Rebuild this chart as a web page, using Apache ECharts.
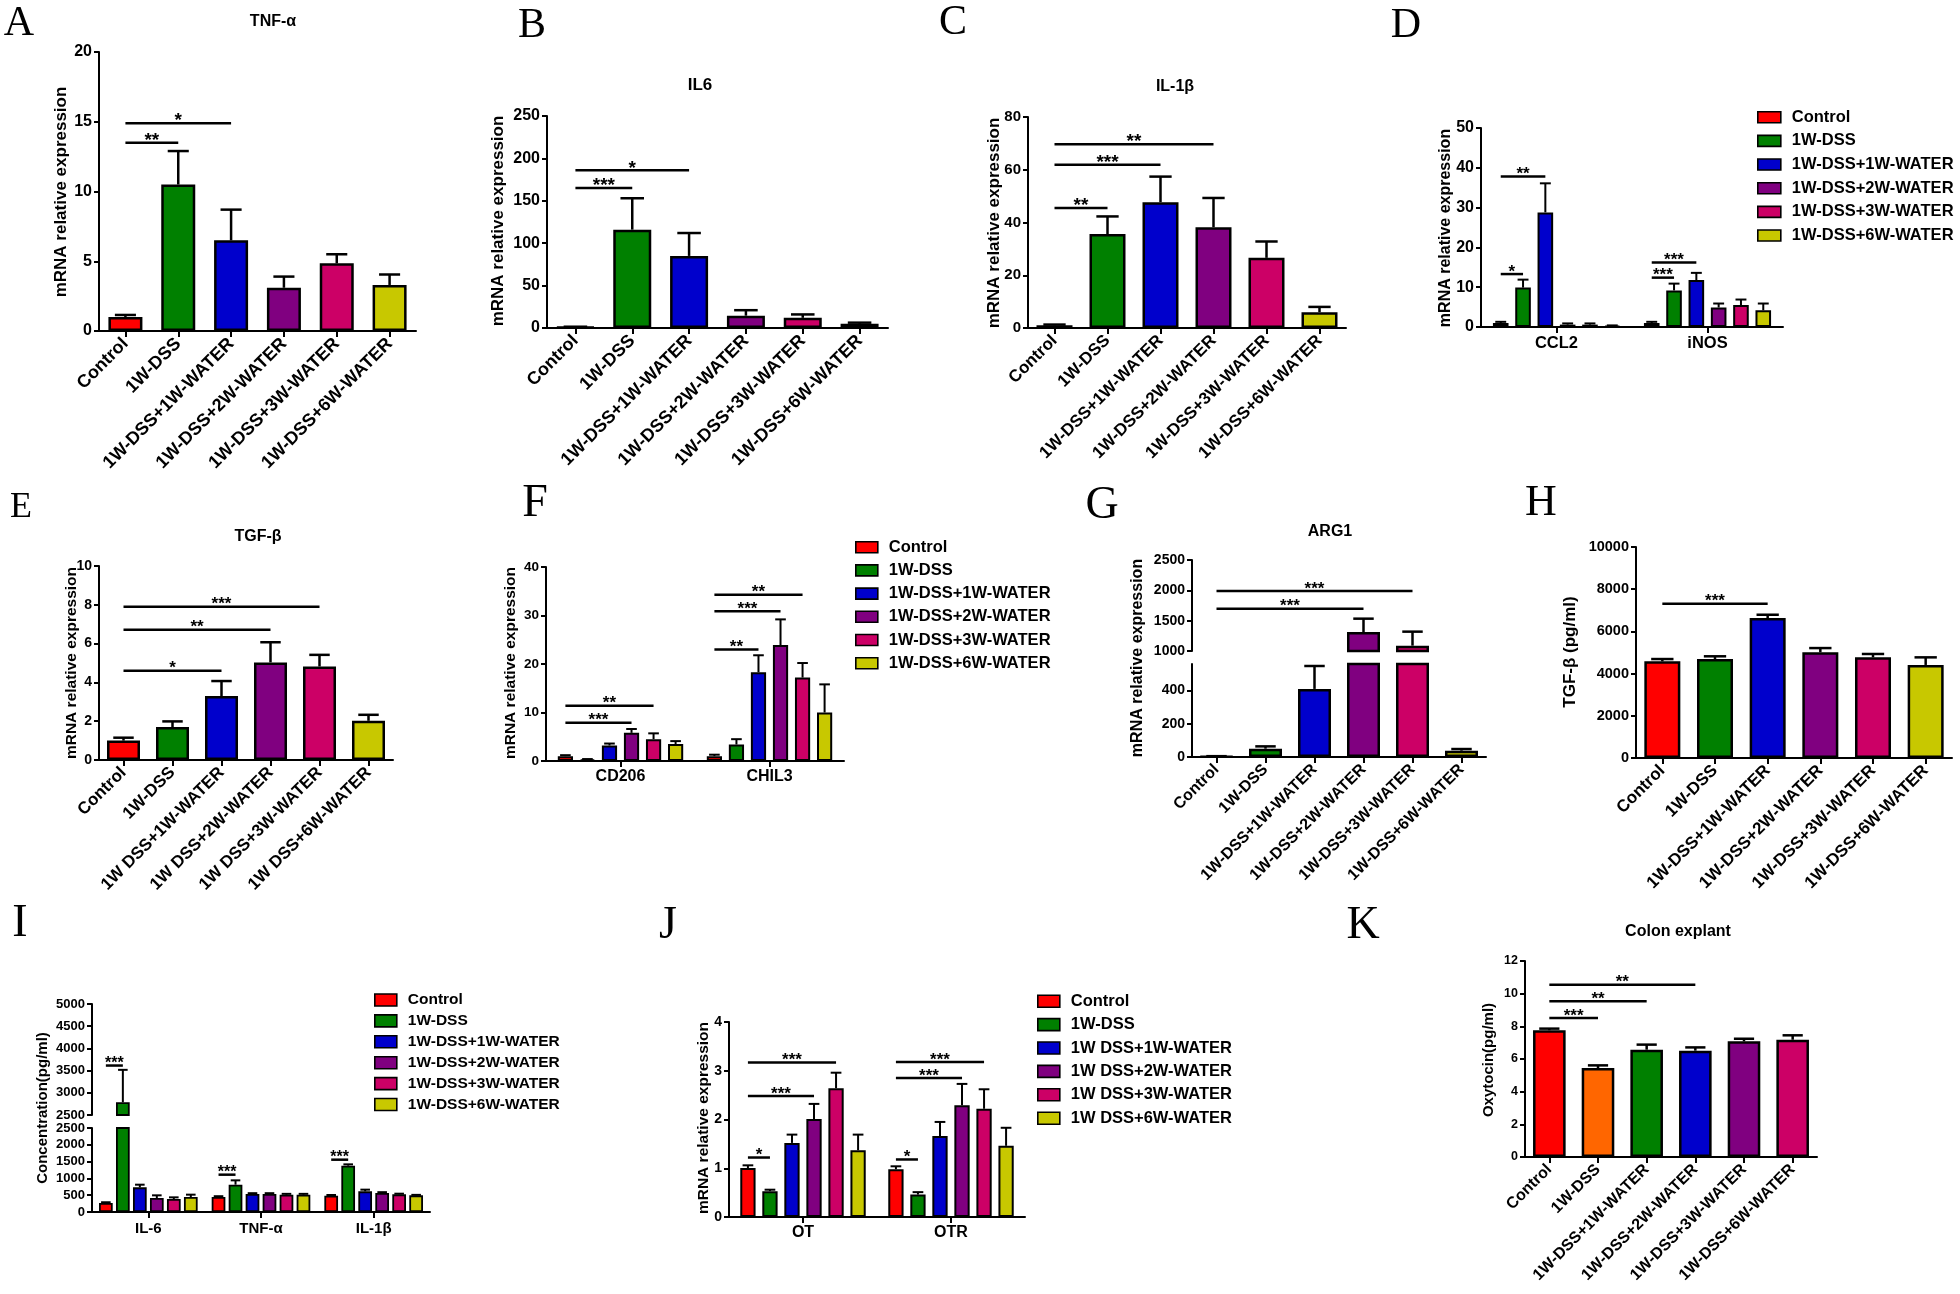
<!DOCTYPE html>
<html><head><meta charset="utf-8">
<script src="https://cdn.jsdelivr.net/npm/echarts@6/dist/echarts.min.js"></script>
<style>html,body{margin:0;padding:0;background:#fff}#c{width:1960px;height:1294px}</style>
</head><body><div id="c"></div>
<script>
// ---------------- categories / groups ----------------
const GROUPS = ['Control','1W-DSS','1W-DSS+1W-WATER','1W-DSS+2W-WATER','1W-DSS+3W-WATER','1W-DSS+6W-WATER'];
const GROUPS_SP = ['Control','1W-DSS','1W DSS+1W-WATER','1W DSS+2W-WATER','1W DSS+3W-WATER','1W DSS+6W-WATER'];
const COLORS = ['#FF0000','#008000','#0000CC','#800080','#CC0066','#C8C800'];
const COLORS_K = ['#FF0000','#FF6600','#008000','#0000CC','#800080','#CC0066'];

// A  TNF-α (mRNA)
const aValues = [1.0, 10.5, 6.5, 3.1, 4.85, 3.3];
const aUpper  = [1.15, 12.9, 8.7, 3.9, 5.5, 4.05];
const aSig    = [[0,1,13.5,'**'],[0,2,14.9,'*']];
// B  IL6
const bValues = [1.0, 116, 85, 14.5, 12, 5];
const bUpper  = [1.5, 153, 112, 21, 16, 6.3];
const bSig    = [[0,1,165,'***'],[0,2,186,'*']];
// C  IL-1β
const cValues = [1.0, 35.6, 47.7, 38.2, 26.6, 6.0];
const cUpper  = [1.3, 42.3, 57.4, 49.3, 32.8, 8.0];
const cSig    = [[0,1,45.5,'**'],[0,2,61.9,'***'],[0,3,69.7,'**']];
// D  CCL2 / iNOS  (rows = genes, columns = groups)
const dCats   = ['CCL2','iNOS'];
const dValues = [[1.0, 9.9, 28.8, 0.6, 0.6, 0.3],[1.0, 9.2, 11.8, 4.9, 5.5, 4.2]];
const dUpper  = [[1.3, 11.9, 36.1, 0.9, 0.9, 0.4],[1.3, 10.9, 13.6, 5.9, 6.9, 5.9]];
const dSig    = [[0,0,1,13.3,'*'],[0,0,2,37.8,'**'],[1,0,1,12.4,'***'],[1,0,2,16.2,'***']];
// E  TGF-β (mRNA)
const eValues = [1.0, 1.7, 3.3, 5.03, 4.82, 2.02];
const eUpper  = [1.15, 1.99, 4.07, 6.07, 5.42, 2.33];
const eSig    = [[0,2,4.6,'*'],[0,3,6.72,'**'],[0,4,7.9,'***']];
// F  CD206 / CHIL3
const fCats   = ['CD206','CHIL3'];
const fValues = [[1.0, 0.3, 3.2, 5.8, 4.5, 3.5],[1.0, 3.4, 18.3, 23.9, 17.2, 10.0]];
const fUpper  = [[1.2, 0.4, 3.6, 6.6, 5.7, 4.1],[1.3, 4.5, 21.8, 29.2, 20.2, 15.8]];
const fSig    = [[0,0,3,7.9,'***'],[0,0,4,11.4,'**'],[1,0,2,23.0,'**'],[1,0,3,30.9,'***'],[1,0,4,34.3,'**']];
// G  ARG1 (broken axis)
const gValues = [3, 50, 410, 1313, 1088, 38];
const gUpper  = [5, 64, 548, 1533, 1319, 48];
const gSig    = [[0,3,1698,'***'],[0,4,1989,'***']];
const gLowTicks = [0, 200, 400];
// H  TGF-β (pg/ml)
const hValues = [4580, 4690, 6635, 5010, 4770, 4410];
const hUpper  = [4690, 4820, 6790, 5210, 4930, 4770];
const hSig    = [[0,2,7314,'***']];
// I  serum cytokines (broken axis)
const iCats   = ['IL-6','TNF-α','IL-1β'];
const iValues = [[268, 2786, 734, 417, 387, 446],[446, 813, 536, 536, 516, 516],[486, 1379, 615, 565, 526, 496]];
const iUpper  = [[290, 3517, 813, 496, 436, 516],[470, 942, 560, 560, 540, 540],[506, 1418, 665, 590, 545, 510]];
const iSig    = [[0,0,1,3614,'***'],[1,0,1,1111,'***'],[2,0,1,1557,'***']];
// J  OT / OTR
const jCats   = ['OT','OTR'];
const jValues = [[1.005, 0.53, 1.52, 2.01, 2.64, 1.37],[0.98, 0.46, 1.66, 2.29, 2.22, 1.46]];
const jUpper  = [[1.06, 0.56, 1.69, 2.32, 2.96, 1.69],[1.04, 0.51, 1.95, 2.73, 2.62, 1.83]];
const jSig    = [[0,0,1,1.22,'*'],[0,0,3,2.48,'***'],[0,0,4,3.17,'***'],[1,0,1,1.18,'*'],[1,0,3,2.85,'***'],[1,0,4,3.18,'***']];
// K  Colon explant oxytocin
const kValues = [7.76, 5.45, 6.57, 6.51, 7.08, 7.18];
const kUpper  = [7.86, 5.61, 6.88, 6.71, 7.24, 7.45];
const kSig    = [[0,1,8.51,'***'],[0,2,9.53,'**'],[0,3,10.55,'**']];

// ---------------- fonts ----------------
const SANS = "'Liberation Sans', Arial, Helvetica, sans-serif";
const SERIF = "'Liberation Serif', 'Times New Roman', serif";

const option = {animation:false, backgroundColor:'#ffffff', grid:[], xAxis:[], yAxis:[], series:[], legend:[], graphic:{elements:[]}};
const G = option.graphic.elements;

function addPanel(p) {
  const single = p.mode === 'single';
  const n = 6, bw = p.barWidth, gap = p.barGap || 0;
  const total = n*bw + (n-1)*bw*gap;
  const offsetOf = s => single ? 0 : (-total/2 + s*bw*(1+gap) + bw/2);
  const items = [];
  if (single) p.values.forEach((v,i)=>items.push({cat:i, s:0, v:v, u:p.upper[i]}));
  else p.values.forEach((arr,c)=>arr.forEach((v,s)=>items.push({cat:c, s:s, v:v, u:p.upper[c][s]})));
  const sigs = (p.sig||[]).map(g => single ? {c0:g[0],s0:0,c1:g[1],s1:0,y:g[2],label:g[3]}
                                            : {c0:g[0],s0:g[1],c1:g[0],s1:g[2],y:g[3],label:g[4]});
  p.segments.forEach((seg, k) => {
    const gi = option.grid.length;
    const base = k === 0;
    option.grid.push({left:p.left, top:seg.top, width:p.width, height:seg.height, containLabel:false, outerBoundsMode:'none'});
    option.xAxis.push({type:'category', gridIndex:gi, data:p.cats, boundaryGap:true,
      axisLine:{show:base, onZero:false, lineStyle:{color:'#000', width:2}},
      axisTick:{show:base, alignWithLabel:true, length:6, lineStyle:{color:'#000', width:2}},
      axisLabel:{show:base, interval:0, rotate:p.xRotate||0, margin:p.xMargin||10, color:'#000', fontWeight:'bold',
                 fontSize:p.xFont, fontFamily:SANS},
      splitLine:{show:false}});
    option.yAxis.push({type:'value', gridIndex:gi, min:seg.min, max:seg.max, interval:seg.interval,
      axisLine:{show:true, onZero:false, lineStyle:{color:'#000', width:2}},
      axisTick:{show:true, length:5, lineStyle:{color:'#000', width:2}, customValues:seg.ticks},
      axisLabel:{margin:7, color:'#000', fontWeight:'bold', fontSize:p.yFont, fontFamily:SANS, customValues:seg.ticks,
                 formatter:v => String(v)},
      splitLine:{show:false}});
    const segVal = v => (v <= seg.min && seg.min > 0 ? '-' : v);
    if (single) {
      option.series.push({type:'bar', xAxisIndex:gi, yAxisIndex:gi, barWidth:bw, clip:true, silent:true,
        itemStyle:{borderColor:'#000', borderWidth:p.border},
        data:p.values.map((v,i)=>({value:segVal(v), itemStyle:{color:p.colors[i]}}))});
    } else {
      p.names.forEach((name,s)=>option.series.push({type:'bar', name:name, xAxisIndex:gi, yAxisIndex:gi, barWidth:bw,
        barGap:(gap*100)+'%', clip:true, silent:true,
        itemStyle:{color:p.colors[s], borderColor:'#000', borderWidth:p.border},
        data:p.values.map(arr=>segVal(arr[s]))}));
    }
    const eItems = items.filter(it => Math.max(it.v, seg.min) < Math.min(it.u, seg.max));
    option.series.push({type:'custom', xAxisIndex:gi, yAxisIndex:gi, silent:true, z:5, clip:false,
      data:eItems.map(it=>[it.cat, it.v, it.u, it.s]),
      renderItem:(params, api) => {
        const it = eItems[params.dataIndex];
        const x = api.coord([it.cat, seg.min])[0] + offsetOf(it.s);
        const lo = Math.max(it.v, seg.min), hi = Math.min(it.u, seg.max);
        const y1 = api.coord([it.cat, lo])[1], y2 = api.coord([it.cat, hi])[1];
        const ch = [{type:'line', shape:{x1:x,y1:y1,x2:x,y2:y2}, style:{stroke:'#000', lineWidth:p.errWidth}}];
        if (it.u <= seg.max) {
          const cw = bw*p.capFrac/2;
          ch.push({type:'line', shape:{x1:x-cw,y1:y2,x2:x+cw,y2:y2}, style:{stroke:'#000', lineWidth:p.errWidth}});
        }
        return {type:'group', children:ch};
      }});
    const sItems = sigs.filter(g => g.y >= seg.min && g.y <= seg.max);
    if (sItems.length) option.series.push({type:'custom', xAxisIndex:gi, yAxisIndex:gi, silent:true, z:6, clip:false,
      data:sItems.map(g=>[g.c0, g.y]),
      renderItem:(params, api) => {
        const g = sItems[params.dataIndex];
        const x1 = api.coord([g.c0, g.y])[0] + offsetOf(g.s0);
        const x2 = api.coord([g.c1, g.y])[0] + offsetOf(g.s1);
        const y = api.coord([g.c0, g.y])[1];
        return {type:'group', children:[
          {type:'line', shape:{x1:x1,y1:y,x2:x2,y2:y}, style:{stroke:'#000', lineWidth:p.sigWidth||2.5}},
          {type:'text', x:(x1+x2)/2, y:y - (p.sigLift||2), style:{text:g.label, font:'bold '+p.sigFont+'px '+SANS, fill:'#000',
            align:'center', verticalAlign:'middle', textAlign:'center', textVerticalAlign:'middle'}}
        ]};
      }});
  });
}

// ---------------- panels ----------------
addPanel({mode:'single', left:99, width:317, segments:[{top:52,height:279,min:0,max:20,interval:5}], cats:GROUPS,
  colors:COLORS, values:aValues, upper:aUpper, sig:aSig, barWidth:34, border:2.5, errWidth:2.5, capFrac:0.62,
  xRotate:45, xFont:18, yFont:16, sigFont:19});
addPanel({mode:'single', left:547, width:341, segments:[{top:116,height:212,min:0,max:250,interval:50}], cats:GROUPS,
  colors:COLORS, values:bValues, upper:bUpper, sig:bSig, barWidth:38, border:2.5, errWidth:2.5, capFrac:0.62,
  xRotate:45, xFont:18, yFont:16, sigFont:19});
addPanel({mode:'single', left:1028, width:318, segments:[{top:117,height:211,min:0,max:80,interval:20}], cats:GROUPS,
  colors:COLORS, values:cValues, upper:cUpper, sig:cSig, barWidth:36, border:2.5, errWidth:2.5, capFrac:0.62,
  xRotate:45, xFont:17, yFont:15, sigFont:19});
addPanel({mode:'group', left:1481, width:302, segments:[{top:128,height:199,min:0,max:50,interval:10}], cats:dCats,
  names:GROUPS, colors:COLORS, values:dValues, upper:dUpper, sig:dSig, barWidth:15.6, barGap:0.43, border:2, errWidth:2, capFrac:0.7,
  xFont:16.5, xMargin:8, yFont:16, sigFont:17});
addPanel({mode:'single', left:99, width:294, segments:[{top:566,height:194,min:0,max:10,interval:2}], cats:GROUPS_SP,
  colors:COLORS, values:eValues, upper:eUpper, sig:eSig, barWidth:33, border:2.5, errWidth:2.5, capFrac:0.62,
  xRotate:45, xFont:17, yFont:14, sigFont:17});
addPanel({mode:'group', left:546, width:298, segments:[{top:567,height:194,min:0,max:40,interval:10}], cats:fCats,
  names:GROUPS, colors:COLORS, values:fValues, upper:fUpper, sig:fSig, barWidth:15.2, barGap:0.45, border:2, errWidth:2, capFrac:0.7,
  xFont:16, xMargin:8, yFont:13.5, sigFont:17});
addPanel({mode:'single', left:1192, width:294,
  segments:[{top:664,height:93,min:0,max:560,interval:200,ticks:gLowTicks},{top:560,height:91,min:1000,max:2500,interval:500}],
  cats:GROUPS, colors:COLORS, values:gValues, upper:gUpper, sig:gSig, barWidth:33, border:2.5, errWidth:2.5, capFrac:0.62,
  xRotate:45, xFont:16, yFont:14, sigFont:17});
addPanel({mode:'single', left:1636, width:316, segments:[{top:547,height:211,min:0,max:10000,interval:2000}], cats:GROUPS,
  colors:COLORS, values:hValues, upper:hUpper, sig:hSig, barWidth:36, border:2.5, errWidth:2.5, capFrac:0.62,
  xRotate:45, xFont:17, yFont:14.5, sigFont:17});
addPanel({mode:'group', left:92, width:338,
  segments:[{top:1128,height:84,min:0,max:2500,interval:500},{top:1004,height:111,min:2500,max:5000,interval:500}],
  cats:iCats, names:GROUPS, colors:COLORS, values:iValues, upper:iUpper, sig:iSig, barWidth:13.7, barGap:0.24, border:1.8, errWidth:2, capFrac:0.7,
  xFont:15, xMargin:9, yFont:13, sigFont:16});
addPanel({mode:'group', left:729, width:296, segments:[{top:1022,height:195,min:0,max:4,interval:1}], cats:jCats,
  names:GROUPS_SP, colors:COLORS, values:jValues, upper:jUpper, sig:jSig, barWidth:15.3, barGap:0.44, border:2, errWidth:2, capFrac:0.7,
  xFont:16, xMargin:8, yFont:14, sigFont:17});
addPanel({mode:'single', left:1525, width:292, segments:[{top:961,height:196,min:0,max:12,interval:2}], cats:GROUPS,
  colors:COLORS_K, values:kValues, upper:kUpper, sig:kSig, barWidth:32.6, border:2.5, errWidth:2.5, capFrac:0.62,
  xRotate:45, xFont:16, yFont:12.5, sigFont:17});

// ---------------- legends ----------------
function addLegend(names, left, rowCenter0, w, h, gap, fs) {
  option.legend.push({data:names, orient:'vertical', left:left, top:rowCenter0 - 8, padding:0, itemWidth:w, itemHeight:h,
    itemGap:gap, icon:'rect', selectedMode:false,
    itemStyle:{borderColor:'#000', borderWidth:1.6},
    textStyle:{fontFamily:SANS, fontWeight:'bold', fontSize:fs, color:'#000', lineHeight:16, padding:[0,0,0,6]}});
}
addLegend(GROUPS, 1757, 116.7, 23, 11, 6.67, 16.5);
addLegend(GROUPS, 855, 546.7, 22, 11, 6.2, 16.5);
addLegend(GROUPS, 374, 1000, 22, 12, 4.9, 15.5);
addLegend(GROUPS_SP, 1037, 1000.7, 22, 12, 6.4, 16.5);

// ---------------- texts ----------------
function txt(text, x, y, font, rot) {
  G.push({type:'text', x:x, y:y, rotation:rot||0, silent:true,
    style:{text:text, font:font, fill:'#000', align:'center', verticalAlign:'middle', textAlign:'center', textVerticalAlign:'middle'}});
}
const letters = [['A',19,24,42],['B',532,26,42],['C',953,23,42],['D',1406,26,42],['E',21,508,36],['F',535,504,46],
                 ['G',1102,506,46],['H',1541,503,44],['I',20,924,46],['J',668,926,46],['K',1363,926,46]];
letters.forEach(l => txt(l[0], l[1], l[2], 'normal '+l[3]+'px '+SERIF));
const titles = [['TNF-α',273,22,16],['IL6',700,85,17],['IL-1β',1175,87,16],['TGF-β',258,537,16],
                ['ARG1',1330,532,16],['Colon explant',1678,932,16]];
titles.forEach(t => txt(t[0], t[1], t[2], 'bold '+t[3]+'px '+SANS));
const yNames = [['mRNA relative expression',61,192,17],['mRNA relative expression',498,221,17],
                ['mRNA relative expression',994,223,17],['mRNA relative expression',1446,228,16],
                ['mRNA relative expression',72,663,15.5],['mRNA relative expression',511,663,15.5],
                ['mRNA relative expression',1138,658,16],['TGF-β (pg/ml)',1570,652,17],
                ['Concentration(pg/ml)',43,1108,15],['mRNA relative expression',704,1118,15.5],
                ['Oxytocin(pg/ml)',1489,1060,15]];
yNames.forEach(t => txt(t[0], t[1], t[2], 'bold '+t[3]+'px '+SANS, Math.PI/2));

const chart = echarts.init(document.getElementById('c'), null, {renderer:'canvas'});
chart.setOption(option);
</script></body></html>
